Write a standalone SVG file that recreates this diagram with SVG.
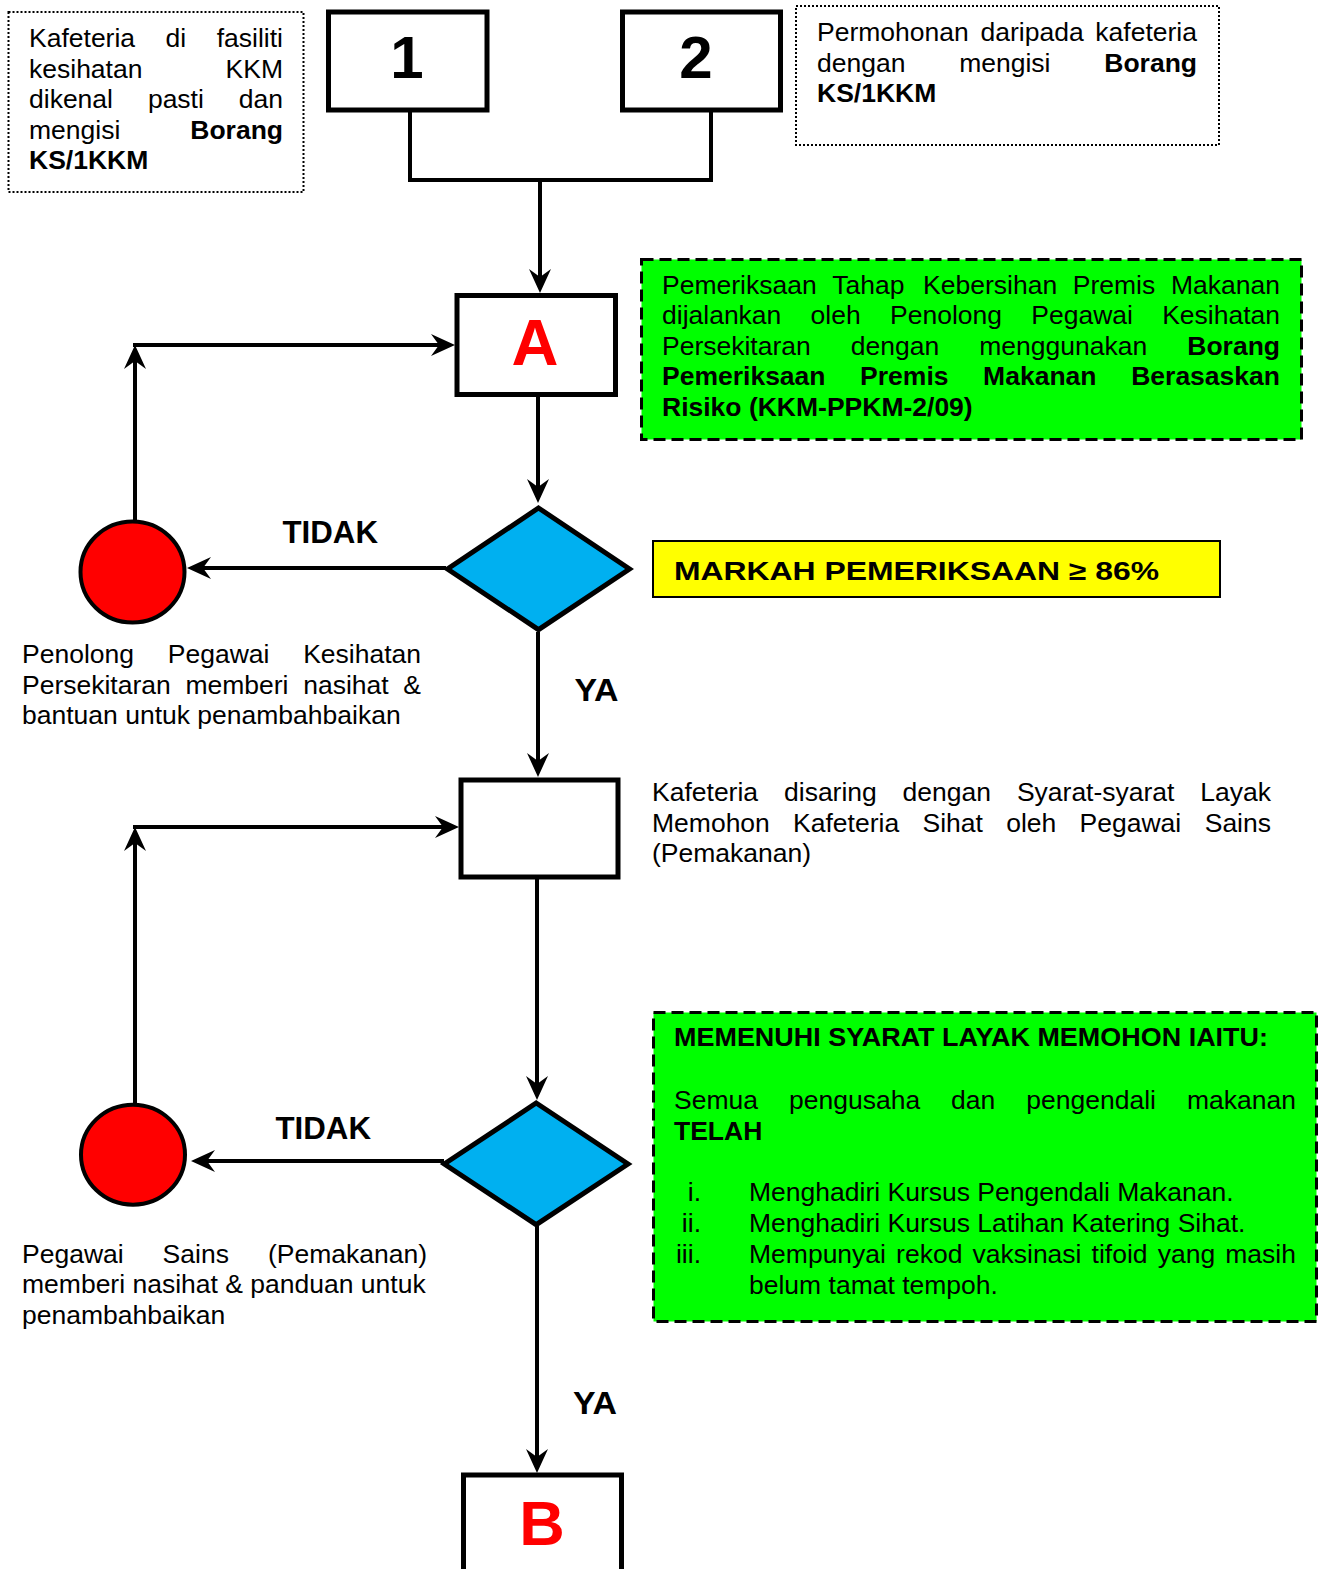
<svg xmlns="http://www.w3.org/2000/svg" width="1320" height="1569" viewBox="0 0 1320 1569">
<style>
.t{font-family:"Liberation Sans",Arial,sans-serif;font-size:26.5px;fill:#000}
.b{font-weight:bold}
.e{text-anchor:end}
.lbl{font-family:"Liberation Sans",Arial,sans-serif;font-size:30.5px;font-weight:bold;fill:#000}
.big{font-family:"Liberation Sans",Arial,sans-serif;font-weight:bold;text-anchor:middle}
.box{fill:#fff;stroke:#000;stroke-width:5}
.dot{fill:#fff;stroke:#000;stroke-width:2;stroke-dasharray:2 2}
.dash{fill:#00FF00;stroke:#000;stroke-width:3;stroke-dasharray:12 6}
.dia{fill:#00B0F0;stroke:#000;stroke-width:5;stroke-linejoin:miter}
.circ{fill:#FF0000;stroke:#000;stroke-width:4}
.c{fill:none;stroke:#000;stroke-width:4}
.a{marker-end:url(#ah)}
</style>
<defs>
<marker id="ah" viewBox="-26 -12 28 24" markerWidth="28" markerHeight="24" refX="-8" refY="0" orient="auto" markerUnits="userSpaceOnUse"><path d="M0,0 L-24,-11 L-16,0 L-24,11 Z" fill="#000"/></marker>
</defs>
<rect width="1320" height="1569" fill="#fff"/>

<g id="note-left">
<rect class="dot" x="8.5" y="12" width="295" height="180"/>
<text class="t" y="47"><tspan x="29">Kafeteria</tspan><tspan x="165.6">di</tspan></text>
<text class="t e" x="283" y="47">fasiliti</text>
<text class="t" x="29" y="77.5">kesihatan</text>
<text class="t e" x="283" y="77.5">KKM</text>
<text class="t" y="108"><tspan x="29">dikenal</tspan><tspan x="147.9">pasti</tspan></text>
<text class="t e" x="283" y="108">dan</text>
<text class="t" x="29" y="138.5">mengisi</text>
<text class="t b e" x="283" y="138.5">Borang</text>
<text class="t b" x="29" y="169">KS/1KKM</text>
</g>

<g id="node-1">
<rect class="box" x="328.5" y="12" width="158.5" height="98"/>
<text class="big" x="407" y="78" font-size="60">1</text>
</g>

<g id="node-2">
<rect class="box" x="622.5" y="12" width="158" height="98"/>
<text class="big" x="696" y="78" font-size="60">2</text>
</g>

<g id="note-right">
<rect class="dot" x="796" y="6" width="423" height="139"/>
<text class="t" y="41"><tspan x="817">Permohonan</tspan><tspan x="980.5">daripada</tspan></text>
<text class="t e" x="1197" y="41">kafeteria</text>
<text class="t" y="72"><tspan x="817">dengan</tspan><tspan x="959.2">mengisi</tspan></text>
<text class="t b e" x="1197" y="72">Borang</text>
<text class="t b" x="817" y="102">KS/1KKM</text>
</g>

<g id="node-A">
<rect class="box" x="457" y="295.5" width="158.5" height="99"/>
<text class="big" x="535" y="365" font-size="65" fill="#FF0000">A</text>
</g>

<g id="note-inspection">
<rect class="dash" x="641.5" y="259.5" width="660" height="180"/>
<text class="t" y="293.5"><tspan x="662">Pemeriksaan</tspan><tspan x="832.3">Tahap</tspan><tspan x="923.1">Kebersihan</tspan><tspan x="1072.8">Premis</tspan></text>
<text class="t e" x="1280" y="293.5">Makanan</text>
<text class="t" y="324"><tspan x="662">dijalankan</tspan><tspan x="810.6">oleh</tspan><tspan x="890">Penolong</tspan><tspan x="1031.3">Pegawai</tspan></text>
<text class="t e" x="1280" y="324">Kesihatan</text>
<text class="t" y="354.5"><tspan x="662">Persekitaran</tspan><tspan x="850.8">dengan</tspan><tspan x="979.3">menggunakan</tspan></text>
<text class="t b e" x="1280" y="354.5">Borang</text>
<text class="t b" y="385"><tspan x="662">Pemeriksaan</tspan><tspan x="860.1">Premis</tspan><tspan x="983.1">Makanan</tspan></text>
<text class="t b e" x="1280" y="385">Berasaskan</text>
<text class="t b" x="662" y="415.5">Risiko (KKM-PPKM-2/09)</text>
</g>

<g id="decision-1">
<polygon class="dia" points="538.5,508 629.5,569 538.5,629.7 447.5,569"/>
</g>

<g id="note-markah">
<rect x="653" y="541" width="567" height="56" fill="#FFFF00" stroke="#000" stroke-width="2"/>
<text class="t b" x="674" y="580" font-size="32" textLength="485" lengthAdjust="spacingAndGlyphs">MARKAH PEMERIKSAAN ≥ 86%</text>
</g>

<g id="stop-1">
<ellipse class="circ" cx="132.5" cy="572" rx="52" ry="50.5"/>
</g>

<g id="note-advice-1">
<text class="t" y="663"><tspan x="22">Penolong</tspan><tspan x="167.8">Pegawai</tspan></text>
<text class="t e" x="421" y="663">Kesihatan</text>
<text class="t" y="693.5"><tspan x="22">Persekitaran</tspan><tspan x="185.4">memberi</tspan><tspan x="303.2">nasihat</tspan></text>
<text class="t e" x="421" y="693.5">&amp;</text>
<text class="t" x="22" y="724">bantuan untuk penambahbaikan</text>
</g>

<g id="node-screen">
<rect class="box" x="461" y="780" width="157" height="97"/>
</g>

<g id="note-screen">
<text class="t" y="801"><tspan x="652">Kafeteria</tspan><tspan x="784">disaring</tspan><tspan x="902.6">dengan</tspan><tspan x="1016.9">Syarat-syarat</tspan></text>
<text class="t e" x="1271" y="801">Layak</text>
<text class="t" y="831.5"><tspan x="652">Memohon</tspan><tspan x="793.1">Kafeteria</tspan><tspan x="922.5">Sihat</tspan><tspan x="1006.2">oleh</tspan><tspan x="1079.6">Pegawai</tspan></text>
<text class="t e" x="1271" y="831.5">Sains</text>
<text class="t" x="652" y="862">(Pemakanan)</text>
</g>

<g id="decision-2">
<polygon class="dia" points="536.2,1103 628,1164 536.2,1224.7 444.3,1164"/>
</g>

<g id="stop-2">
<ellipse class="circ" cx="133" cy="1154.7" rx="52" ry="50"/>
</g>

<g id="note-advice-2">
<text class="t" y="1262.5"><tspan x="22">Pegawai</tspan><tspan x="162.6">Sains</tspan></text>
<text class="t e" x="427" y="1262.5">(Pemakanan)</text>
<text class="t" x="22" y="1293">memberi nasihat &amp; panduan untuk</text>
<text class="t" x="22" y="1323.5">penambahbaikan</text>
</g>

<g id="note-requirements">
<rect class="dash" x="653.5" y="1012.5" width="663" height="309"/>
<text class="t b" x="674" y="1045.5" textLength="594" lengthAdjust="spacingAndGlyphs">MEMENUHI SYARAT LAYAK MEMOHON IAITU:</text>
<text class="t" y="1109"><tspan x="674">Semua</tspan><tspan x="789">pengusaha</tspan><tspan x="951.1">dan</tspan><tspan x="1026.3">pengendali</tspan></text>
<text class="t e" x="1296" y="1109">makanan</text>
<text class="t b" x="674" y="1140">TELAH</text>
<text class="t e" x="701" y="1201">i.</text>
<text class="t" x="749" y="1201">Menghadiri Kursus Pengendali Makanan.</text>
<text class="t e" x="701" y="1232">ii.</text>
<text class="t" x="749" y="1232">Menghadiri Kursus Latihan Katering Sihat.</text>
<text class="t e" x="701" y="1263">iii.</text>
<text class="t" y="1263"><tspan x="749">Mempunyai</tspan><tspan x="896.1">rekod</tspan><tspan x="972.5">vaksinasi</tspan><tspan x="1091.6">tifoid</tspan><tspan x="1157.7">yang</tspan></text>
<text class="t e" x="1296" y="1263">masih</text>
<text class="t" x="749" y="1293.5">belum tamat tempoh.</text>
</g>

<g id="node-B">
<rect class="box" x="463.5" y="1475" width="158" height="110"/>
<text class="big" x="542" y="1545" font-size="63" fill="#FF0000">B</text>
</g>

<g id="connectors">
<path class="c" d="M410,112 V180 H711 V112"/>
<path class="c a" d="M540,180 V285"/>
<path class="c a" d="M538,396 V495"/>
<path class="c a" d="M446,568 H195"/>
<path class="c a" d="M135,521 V353"/>
<path class="c a" d="M133,345 H447"/>
<path class="c a" d="M538,632 V769"/>
<path class="c a" d="M537,879 V1092"/>
<path class="c a" d="M444,1161 H199"/>
<path class="c a" d="M135,1104 V835"/>
<path class="c a" d="M133,827 H451"/>
<path class="c a" d="M537,1226 V1465"/>
</g>

<g id="labels">
<text class="lbl" x="282.5" y="543" textLength="95.5" lengthAdjust="spacingAndGlyphs">TIDAK</text>
<text class="lbl" x="574.5" y="701" textLength="44" lengthAdjust="spacingAndGlyphs">YA</text>
<text class="lbl" x="275.5" y="1139" textLength="95.5" lengthAdjust="spacingAndGlyphs">TIDAK</text>
<text class="lbl" x="573" y="1414" textLength="44" lengthAdjust="spacingAndGlyphs">YA</text>
</g>
</svg>
